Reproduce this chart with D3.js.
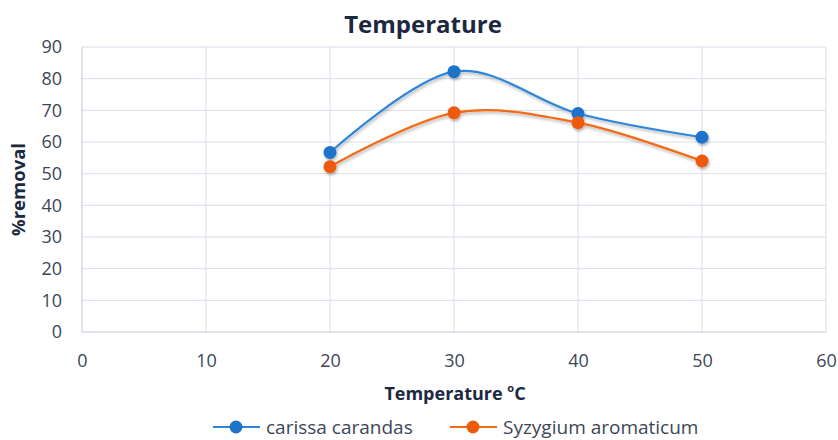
<!DOCTYPE html>
<html><head><meta charset="utf-8">
<script src="https://cdn.jsdelivr.net/npm/d3@7"></script>
<style>body{margin:0;background:#fff;} svg{display:block;}</style>
</head><body>
<svg id="c" width="838" height="440"></svg>
<script>
const temps = [20, 30, 40, 50];
const carissa = [56.7, 82.2, 69.0, 61.5];
const syzygium = [52.2, 69.2, 66.1, 54.0];
const seriesNames = ["carissa carandas", "Syzygium aromaticum"];
const xTicks = [0, 10, 20, 30, 40, 50, 60];
const yTicks = [0, 10, 20, 30, 40, 50, 60, 70, 80, 90];

const W = 838, H = 440;
const m = {left: 82, right: 12, top: 47, bottom: 108};
const svg = d3.select("#c");
const font = "'Open Sans', sans-serif";
const textCol = "#3d4657";

const x = d3.scaleLinear().domain([0, 60]).range([m.left, W - m.right]);
const y = d3.scaleLinear().domain([0, 90]).range([H - m.bottom, m.top]);

const defs = svg.append("defs");
const f = defs.append("filter").attr("id", "sh").attr("x", "-10%").attr("y", "-30%").attr("width", "130%").attr("height", "170%");
f.append("feDropShadow").attr("dx", 1).attr("dy", 2).attr("stdDeviation", 1.5).attr("flood-color", "#000").attr("flood-opacity", 0.3);

// grid
const grid = svg.append("g");
grid.selectAll("line.h").data(yTicks).join("line")
  .attr("x1", x(0)).attr("x2", x(60)).attr("y1", d => y(d)).attr("y2", d => y(d))
  .attr("stroke", d => d === 0 ? "#bfc7d6" : "#d9dee8").attr("stroke-width", 1);
grid.selectAll("line.v").data(xTicks).join("line")
  .attr("y1", y(0)).attr("y2", y(90)).attr("x1", d => x(d)).attr("x2", d => x(d))
  .attr("stroke", d => d === 0 ? "#bfc7d6" : "#d9dee8").attr("stroke-width", 1);

// axes labels via d3 axes
const yAxis = svg.append("g").attr("transform", `translate(${m.left},0)`)
  .call(d3.axisLeft(y).tickValues(yTicks).tickSize(0).tickPadding(20));
yAxis.select(".domain").remove();
yAxis.selectAll("text").attr("font-family", font).attr("font-size", 18).attr("fill", textCol);

const xAxis = svg.append("g").attr("transform", `translate(0,${y(0)})`)
  .call(d3.axisBottom(x).tickValues(xTicks).tickSize(0).tickPadding(22));
xAxis.select(".domain").remove();
xAxis.selectAll("text").attr("font-family", font).attr("font-size", 18).attr("fill", textCol);

// series
const cols = [{line: "#2f86d8", dot: "#1f73c9"}, {line: "#f26b14", dot: "#ee5a0b"}];
const data = [carissa, syzygium];
const lineGen = d3.line().x((d, i) => x(temps[i])).y(d => y(d)).curve(d3.curveCardinal.tension(0));
data.forEach((s, k) => {
  const g = svg.append("g").attr("filter", "url(#sh)");
  g.append("path").attr("d", lineGen(s)).attr("fill", "none").attr("stroke", cols[k].line).attr("stroke-width", 2.2);
  g.selectAll("circle").data(s).join("circle")
    .attr("cx", (d, i) => x(temps[i])).attr("cy", d => y(d)).attr("r", 6.5).attr("fill", cols[k].dot);
});

// title
svg.append("text").attr("x", 423).attr("y", 33).attr("text-anchor", "middle")
  .attr("font-family", font).attr("font-weight", "bold").attr("font-size", 24).attr("fill", "#1c2740").text("Temperature");

// y label
svg.append("text").attr("transform", `translate(25,${(y(0)+y(90))/2}) rotate(-90)`).attr("text-anchor", "middle")
  .attr("font-family", font).attr("font-weight", "bold").attr("font-size", 18.5).attr("fill", "#1c2740").text("%removal");

// x label
const xl = svg.append("text").attr("x", 455).attr("y", 400).attr("text-anchor", "middle")
  .attr("font-family", font).attr("font-weight", "bold").attr("font-size", 18).attr("fill", "#1c2740");
xl.append("tspan").text("Temperature ");
xl.append("tspan").attr("font-size", 11).attr("dy", -8).text("o");
xl.append("tspan").attr("dy", 8).text("C");

// legend
const legX = [213, 450];
seriesNames.forEach((n, k) => {
  const g = svg.append("g").attr("transform", `translate(${legX[k]},427)`);
  g.append("line").attr("x1", 0).attr("x2", 47).attr("stroke", cols[k].line).attr("stroke-width", 2.2);
  g.append("circle").attr("cx", 23).attr("r", 6.5).attr("fill", cols[k].dot);
  g.append("text").attr("x", 53).attr("y", 6.5).attr("font-family", font).attr("font-size", 19).attr("fill", textCol).text(n);
});
</script>
</body></html>
